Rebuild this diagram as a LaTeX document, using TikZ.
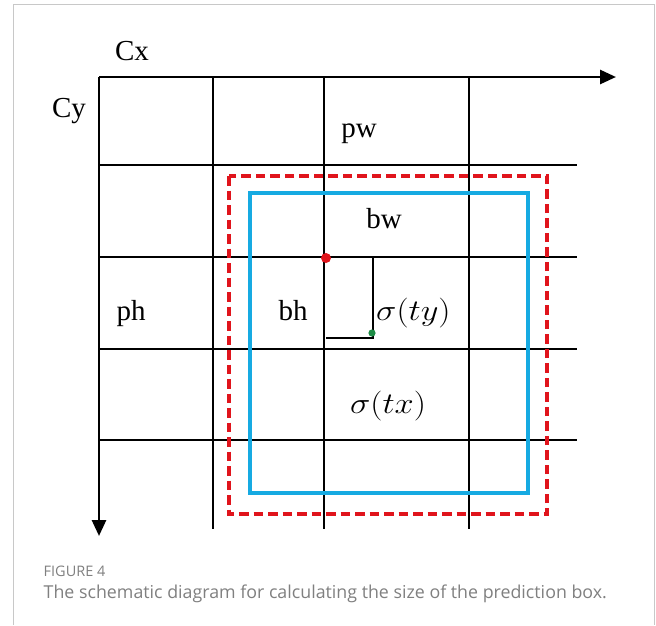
\documentclass[tikz,border=0pt]{standalone}
\usepackage{graphicx}
\usepackage{fontspec}
\setmainfont{Liberation Serif}
\newfontfamily\capfont{Open Sans}
\usetikzlibrary{arrows.meta}
\definecolor{framegray}{RGB}{200,200,200}
\definecolor{boxred}{RGB}{224,20,28}
\definecolor{boxblue}{RGB}{22,170,226}
\definecolor{dotgreen}{RGB}{30,140,70}
\definecolor{captiongray}{RGB}{128,128,128}
\tikzset{
  axis/.style={line width=2.8pt,-{Triangle[length=16pt,width=14pt]}},
  gridline/.style={line width=1.4pt,black},
  lbl/.style={inner sep=0pt,anchor=base,font=\fontsize{29}{32}\selectfont},
  mlbl/.style={inner sep=0pt,font=\fontsize{24.88}{30}\selectfont},
  predbox/.style={boxred,line width=3.8pt,dash pattern=on 9.5pt off 5pt},
  anchorbox/.style={boxblue,line width=3.4pt},
}
\begin{document}
\begin{tikzpicture}[x=1pt,y=-1pt]
\useasboundingbox (0,0) rectangle (656,625);
\fill[white] (0,0) rectangle (656,625);
% frame
\draw[framegray,line width=1pt] (13.5,625) -- (13.5,4.5) -- (654.5,4.5) -- (654.5,625);
% coordinates
\coordinate (O) at (99,77);
\coordinate (XE) at (616,77);
\coordinate (YE) at (99,536);
% grid
\foreach \x in {213,324,469} \draw[gridline] (\x,77) -- (\x,529);
\foreach \y in {165,257,349,440} \draw[gridline] (99,\y) -- (577,\y);
% boxes
\draw[predbox] (229,176) rectangle (547,514);
\draw[anchorbox] (250,193) rectangle (528,493);
% axes
\draw[axis] (O) -- (XE);
\draw[axis] (O) -- (YE);
% offset L
\coordinate (L1) at (373,257);
\coordinate (L2) at (373,338);
\coordinate (L3) at (326,338);
\draw[line width=2pt] (L1) -- (L2) -- (L3);
\fill[boxred] (326,258) circle (5pt);
\fill[dotgreen] (372,333) circle (3.6pt);
% labels
\node[lbl] (cx) at (132,60) {Cx};
\node[lbl] (cy) at (69,117) {Cy};
\node[lbl] (pw) at (359,137) {pw};
\node[lbl] (bw) at (384,228) {bw};
\node[lbl] (ph) at (131,320) {ph};
\node[lbl] (bh) at (293,320) {bh};
\node[mlbl,anchor=base west] (sy) at (376,320) {\scalebox{1.38}[1.2]{$\sigma(ty)$}};
\node[mlbl,anchor=base] (sx) at (388,413) {\scalebox{1.38}[1.2]{$\sigma(tx)$}};
% caption
\node[anchor=base west,inner sep=0pt,text=captiongray,font=\capfont\fontsize{14.5}{16}\selectfont] (fig) at (43.5,576) {FIGURE 4};
\node[anchor=base west,inner sep=0pt,text=captiongray,font=\capfont\fontsize{17.8}{20}\selectfont] (cap) at (43.5,598) {The schematic diagram for calculating the size of the prediction box.};
\end{tikzpicture}
\end{document}
